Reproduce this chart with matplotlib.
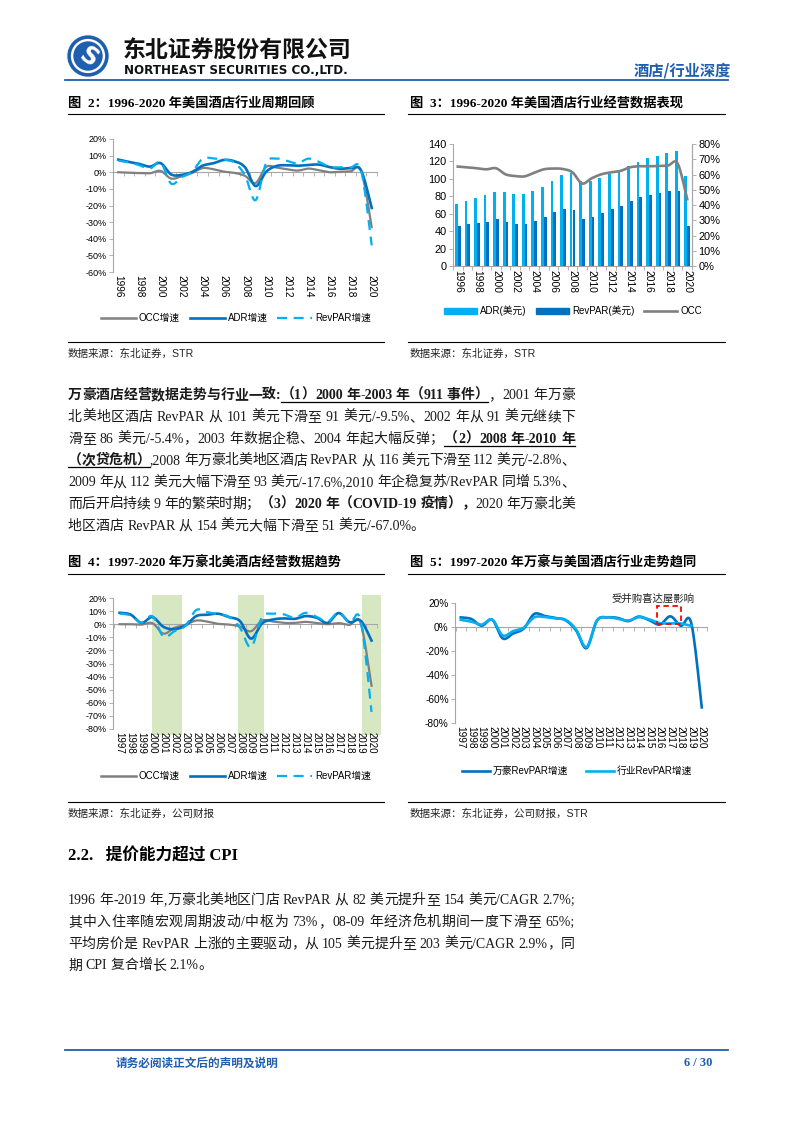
import matplotlib
matplotlib.use('Agg')
import matplotlib.pyplot as plt
import numpy as np
from matplotlib.lines import Line2D
from matplotlib.patches import Patch, Rectangle, Circle
from matplotlib.font_manager import FontProperties
from matplotlib.ticker import FuncFormatter

# ---------------- data ----------------
years_us = list(range(1996, 2021))
us_occ_growth = [0.0, -0.3, -0.5, -0.6, 0.8, -3.8, -2.4, -0.4, 2.5, 1.8, 0.4, -0.4, -2.2, -6.5, 3.2, 2.8, 1.8, 1.0, 2.2, 1.2, 0.0, 0.3, 0.5, 0.8, -33.0]
us_adr_growth = [7.6, 6.2, 5.0, 3.4, 5.5, -1.3, -1.6, 0.2, 4.0, 5.4, 7.4, 6.6, 3.0, -8.3, 0.3, 3.8, 4.2, 3.9, 4.4, 4.6, 3.1, 2.1, 2.4, 1.0, -21.5]
us_revpar_growth = [7.0, 6.0, 4.2, 2.2, 6.0, -6.8, -3.0, 0.4, 8.2, 8.3, 7.6, 5.8, -1.9, -16.8, 5.5, 8.2, 6.8, 5.4, 8.2, 6.3, 3.2, 3.0, 2.9, 0.9, -44.0]

us_adr = [70.8, 74.6, 78.5, 81.2, 85.0, 85.0, 83.1, 83.1, 86.2, 90.9, 97.4, 104.4, 106.5, 97.8, 98.0, 101.3, 106.0, 110.2, 114.8, 119.9, 123.7, 126.8, 129.5, 131.5, 103.2]
us_revpar = [45.6, 48.3, 49.9, 51.0, 53.8, 50.7, 48.7, 48.7, 51.4, 56.8, 61.5, 65.7, 64.2, 53.4, 56.1, 60.7, 65.4, 68.8, 74.2, 78.9, 81.2, 83.9, 85.8, 86.6, 45.6]
us_occ = [65.2, 64.7, 64.1, 63.4, 64.1, 60.1, 59.0, 58.8, 61.2, 63.4, 63.9, 63.6, 61.4, 54.1, 57.5, 60.1, 61.4, 62.3, 64.7, 65.4, 65.4, 65.6, 65.9, 67.2, 43.8]

years_mar = list(range(1997, 2021))
mar_occ_growth = [0.0, 0.0, -0.3, 0.8, -7.2, -2.8, -0.5, 2.8, 2.0, 0.3, -0.3, -1.8, -5.4, 2.8, 2.0, 1.0, 1.0, 1.8, 0.8, 0.0, 0.8, -0.5, 1.0, -47.0]
mar_adr_growth = [8.7, 7.4, 1.0, 5.4, -2.0, -3.8, -1.0, 6.2, 7.2, 8.0, 5.4, 2.3, -11.0, 0.5, 3.6, 4.4, 4.1, 6.2, 4.9, 1.0, 8.5, 1.5, 2.8, -12.5]
mar_revpar_growth = [8.0, 6.7, 1.1, 6.1, -9.5, -5.4, -1.4, 10.8, 9.2, 7.5, 5.6, -2.8, -17.6, 5.3, 8.0, 7.5, 4.9, 8.7, 5.6, 2.0, 8.9, 1.1, 3.2, -67.0]
ind_revpar_growth = [6.0, 4.5, 2.0, 6.1, -7.0, -3.4, -0.6, 8.0, 8.3, 7.2, 6.0, -2.0, -16.7, 5.5, 8.1, 6.8, 5.4, 8.2, 6.3, 3.2, 3.0, 2.9, 0.9, None]

shade_spans = [(1999.95, 2002.7), (2007.8, 2010.2), (2019.15, 2020.85)]

# ---------------- setup ----------------
W, H = 793, 1122
fig = plt.figure(figsize=(W / 100, H / 100), dpi=100)
plt.rcParams['font.family'] = ['Liberation Sans', 'Noto Sans CJK SC']
SANS = ['Liberation Sans', 'Noto Sans CJK SC']
SERIF = ['Liberation Serif', 'Noto Sans CJK SC']
CJK = ['Noto Sans CJK SC', 'DejaVu Sans']

C_DARK = '#0070C0'
C_LIGHT = '#00B0F0'
C_GRAY = '#808080'
AX_GRAY = '#A6A6A6'
TXT = '#1a1a1a'
BLUE_HDR = '#1F5FAF'


def fx(x):
    return x / W


def fy(y):
    return 1 - y / H


def axes_px(l, t, r, b):
    return fig.add_axes([fx(l), fy(b), (r - l) / W, (b - t) / H])


def hline(x0, x1, y, color='black', lw=0.8):
    fig.add_artist(Line2D([fx(x0), fx(x1)], [fy(y), fy(y)], transform=fig.transFigure, color=color, lw=lw))


def smooth(xv, yv, n=20):
    x = np.asarray(xv, float)
    y = np.asarray(yv, float)
    P = np.column_stack([x, y])
    P = np.vstack([P[0], P, P[-1]])
    out = []
    t = np.linspace(0, 1, n, endpoint=False)[:, None]
    for i in range(1, len(P) - 2):
        p0, p1, p2, p3 = P[i - 1], P[i], P[i + 1], P[i + 2]
        c1 = p1 + (p2 - p0) / 6
        c2 = p2 - (p3 - p1) / 6
        seg = (1 - t) ** 3 * p1 + 3 * (1 - t) ** 2 * t * c1 + 3 * (1 - t) * t ** 2 * c2 + t ** 3 * p2
        out.append(seg)
    out.append(P[-2][None, :])
    out = np.vstack(out)
    return out[:, 0], out[:, 1]


renderer = fig.canvas.get_renderer()
_cache = {}


def measure(text, size, bold, fam):
    key = (text, size, bold, tuple(fam))
    if key not in _cache:
        t = fig.text(0, 0, text, fontsize=size, fontweight='bold' if bold else 'normal', family=fam)
        _cache[key] = t.get_window_extent(renderer).width
        t.remove()
    return _cache[key]


def is_wide(ch):
    return len(ch) == 1 and ord(ch) >= 0x2E80


def tokenize(text):
    toks, buf = [], ''
    for ch in text:
        if ch == ' ' or is_wide(ch):
            if buf:
                toks.append(buf)
                buf = ''
            toks.append(ch)
        else:
            buf += ch
    if buf:
        toks.append(buf)
    return toks


def tok_width(tok, size, bold, fam):
    em = size / 72 * 100
    if is_wide(tok):
        return em
    if tok == ' ':
        return measure('H H', size, bold, fam) - measure('HH', size, bold, fam)
    return measure('H' + tok + 'H', size, bold, fam) - measure('HH', size, bold, fam)


def text_line(x, y, parts, size, target=None, fam=SERIF, color=TXT):
    items = []
    for text, bold, ul in parts:
        for tok in tokenize(text):
            items.append((tok, bold, ul, tok_width(tok, size, bold, fam)))
    natural = sum(it[3] for it in items)
    extra = 0.0
    if target is not None and len(items) > 1:
        extra = (target - natural) / (len(items) - 1)
    ul_start = None
    ul_end = None
    for tok, bold, ul, w in items:
        if tok != ' ':
            fig.text(fx(x), fy(y), tok, fontsize=size, fontweight='bold' if bold else 'normal',
                     family=fam, va='baseline', ha='left', color=color)
        if ul:
            if ul_start is None:
                ul_start = x
            ul_end = x + w
        elif ul_start is not None:
            hline(ul_start, ul_end, y + 3, color='black', lw=0.9)
            ul_start = None
        x += w + extra
    if ul_start is not None:
        hline(ul_start, ul_end, y + 3, color='black', lw=0.9)


def pct(v, pos=None):
    return f'{v:.0f}%'


def style_axes(ax, xls=7.0):
    for s in ['top', 'right', 'bottom']:
        ax.spines[s].set_visible(False)
    ax.spines['left'].set_color(AX_GRAY)
    ax.spines['left'].set_linewidth(0.8)
    ax.tick_params(axis='y', length=3, width=0.6, color=AX_GRAY, labelsize=6.5, pad=1.5)
    ax.tick_params(axis='x', length=0, labelsize=xls, pad=2)
    ax.yaxis.set_major_formatter(FuncFormatter(pct))
    ax.patch.set_alpha(0)


def zero_axis(ax, n):
    y0, y1 = ax.get_ylim()
    loc = (0 - y0) / (y1 - y0)
    sec = ax.secondary_xaxis(loc)
    sec.set_alignment('bottom')
    sec.set_xticks(np.arange(-0.5, n, 1.0))
    sec.tick_params(axis='x', length=3, width=0.6, color=AX_GRAY, labelbottom=False, labeltop=False)
    for s in sec.spines.values():
        s.set_visible(False)
    sec.spines['bottom'].set_visible(True)
    sec.spines['bottom'].set_color(AX_GRAY)
    sec.spines['bottom'].set_linewidth(0.8)
    return sec


LEG_PROP = FontProperties(family=SANS, size=7)


def legend(handles, labels, cx, cy, **kw):
    opts = dict(loc='center', bbox_to_anchor=(fx(cx), fy(cy)), ncol=len(handles), frameon=False,
                prop=LEG_PROP, handlelength=3.6, columnspacing=1.0, handletextpad=0.3,
                borderpad=0, borderaxespad=0)
    opts.update(kw)
    fig.legend(handles, labels, **opts)


# ---------------- header ----------------
lax = fig.add_axes([fx(67), fy(77), 42 / W, 42 / H])
lax.set_xlim(-1.05, 1.05)
lax.set_ylim(-1.05, 1.05)
lax.set_aspect('equal')
lax.axis('off')
lax.add_patch(Circle((0, 0), 1.0, color=BLUE_HDR))
lax.add_patch(Circle((0, 0), 0.82, color='white'))
lax.add_patch(Circle((0, 0), 0.70, color=BLUE_HDR))
lax.text(0, -0.05, 'S', color='white', fontsize=17, fontweight='bold', ha='center', va='center',
         family='DejaVu Sans', rotation=-35)

fig.text(fx(123), fy(50), '东北证券股份有限公司', fontsize=16.5, fontweight='bold', family=CJK,
         va='center', ha='left', color='#111111')
fig.text(fx(124), fy(70), 'NORTHEAST SECURITIES CO.,LTD.', fontsize=8.6, fontweight='bold',
         family='DejaVu Sans', va='center', ha='left', color='#111111')
fig.text(fx(731), fy(70), '酒店/行业深度', fontsize=11, fontweight='bold', family=CJK,
         va='center', ha='right', color=BLUE_HDR)
hline(65, 728, 80, color=BLUE_HDR, lw=1.3)

# ---------------- chart titles ----------------
fig.text(fx(68), fy(108), '图  2：1996-2020 年美国酒店行业周期回顾', fontsize=9.5, fontweight='bold',
         family=SERIF, va='baseline', color='black')
fig.text(fx(410), fy(108), '图  3：1996-2020 年美国酒店行业经营数据表现', fontsize=9.5, fontweight='bold',
         family=SERIF, va='baseline', color='black')
hline(68, 384, 114)
hline(408, 725, 114)

# ---------------- chart 2 ----------------
n_us = len(years_us)
idx_us = np.arange(n_us)
ax2 = axes_px(113, 139, 377, 272)
ax2.set_xlim(-0.5, n_us - 0.5)
ax2.set_ylim(-60, 20)
ax2.set_yticks(np.arange(-60, 21, 10))
style_axes(ax2, 7.2)
ax2.set_xticks(idx_us[::2])
ax2.set_xticklabels([str(y) for y in years_us[::2]], rotation=-90)
zero_axis(ax2, n_us)
xs, ys = smooth(idx_us, us_occ_growth)
ax2.plot(xs, ys, color=C_GRAY, lw=1.6)
xs, ys = smooth(idx_us, us_adr_growth)
ax2.plot(xs, ys, color=C_DARK, lw=1.9)
xs, ys = smooth(idx_us, us_revpar_growth)
ax2.plot(xs, ys, color=C_LIGHT, lw=1.6, dashes=(4.5, 3))

h2 = [Line2D([], [], color=C_GRAY, lw=1.8), Line2D([], [], color=C_DARK, lw=1.9),
      Line2D([], [], color=C_LIGHT, lw=1.6, dashes=(4.5, 3))]
legend(h2, ['OCC增速', 'ADR增速', 'RevPAR增速'], 236, 318)

# ---------------- chart 3 ----------------
ax3 = axes_px(453, 144, 692, 266)
ax3.set_xlim(-0.5, n_us - 0.5)
ax3.set_ylim(0, 140)
ax3.set_yticks(np.arange(0, 141, 20))
bw = 0.29
ax3.bar(idx_us - bw / 2, us_adr, width=bw, color=C_LIGHT, zorder=2)
ax3.bar(idx_us + bw / 2, us_revpar, width=bw, color=C_DARK, zorder=2)
ax3.spines['top'].set_visible(False)
for s in ['left', 'bottom', 'right']:
    ax3.spines[s].set_color(AX_GRAY)
    ax3.spines[s].set_linewidth(0.8)
ax3.set_xticks(idx_us[::2])
ax3.set_xticklabels([str(y) for y in years_us[::2]], rotation=-90)
ax3.set_xticks(np.arange(-0.5, n_us, 1.0), minor=True)
ax3.tick_params(axis='x', which='major', length=0, labelsize=7.4, pad=3)
ax3.tick_params(axis='x', which='minor', length=3, width=0.6, color=AX_GRAY)
ax3.tick_params(axis='y', length=3, width=0.6, color=AX_GRAY, labelsize=7.9, pad=1.5)
ax3r = ax3.twinx()
ax3r.set_ylim(0, 80)
ax3r.set_yticks(np.arange(0, 81, 10))
ax3r.yaxis.set_major_formatter(FuncFormatter(pct))
ax3r.tick_params(axis='y', length=3, width=0.6, color=AX_GRAY, labelsize=7.9, pad=1.5)
for s in ['top', 'left', 'bottom']:
    ax3r.spines[s].set_visible(False)
ax3r.spines['right'].set_color(AX_GRAY)
xs, ys = smooth(idx_us, us_occ)
ax3r.plot(xs, ys, color=C_GRAY, lw=1.9)

h3 = [Patch(color=C_LIGHT), Patch(color=C_DARK), Line2D([], [], color=C_GRAY, lw=1.9)]
legend(h3, ['ADR(美元)', 'RevPAR(美元)', 'OCC'], 573, 311, handleheight=0.55, handlelength=3.4,
       columnspacing=1.0)

# ---------------- sources (top) ----------------
hline(68, 384, 342)
hline(408, 725, 342)
fig.text(fx(68), fy(354), '数据来源：东北证券，STR', fontsize=7.6, family=SANS, va='center', color='#222222')
fig.text(fx(410), fy(354), '数据来源：东北证券，STR', fontsize=7.6, family=SANS, va='center', color='#222222')

# ---------------- paragraph 1 ----------------
PS = 10.0
LEFT, RIGHT = 68, 575
dy = 21.8
para1 = [
    [('万豪酒店经营数据走势与行业一致:', True, False), ('（1）2000 年-2003 年（911 事件）', True, True),
     ('，2001 年万豪', False, False)],
    [('北美地区酒店 RevPAR 从 101 美元下滑至 91 美元/-9.5%、2002 年从 91 美元继续下', False, False)],
    [('滑至 86 美元/-5.4%，2003 年数据企稳、2004 年起大幅反弹；', False, False),
     ('（2）2008 年-2010 年', True, True)],
    [('（次贷危机）', True, True),
     (',2008 年万豪北美地区酒店 RevPAR 从 116 美元下滑至 112 美元/-2.8%、', False, False)],
    [('2009 年从 112 美元大幅下滑至 93 美元/-17.6%,2010 年企稳复苏/RevPAR 同增 5.3%、', False, False)],
    [('而后开启持续 9 年的繁荣时期；', False, False), ('（3）2020 年（COVID-19 疫情），', True, False),
     ('2020 年万豪北美', False, False)],
    [('地区酒店 RevPAR 从 154 美元大幅下滑至 51 美元/-67.0%。', False, False)],
]
for i, line in enumerate(para1):
    text_line(LEFT, 399 + i * dy, line, PS, target=(RIGHT - LEFT) if i < len(para1) - 1 else None)

# ---------------- chart titles (bottom) ----------------
fig.text(fx(68), fy(567), '图  4：1997-2020 年万豪北美酒店经营数据趋势', fontsize=9.5, fontweight='bold',
         family=SERIF, va='baseline', color='black')
fig.text(fx(410), fy(567), '图  5：1997-2020 年万豪与美国酒店行业走势趋同', fontsize=9.5, fontweight='bold',
         family=SERIF, va='baseline', color='black')
hline(68, 384, 574)
hline(408, 725, 574)

# ---------------- chart 4 ----------------
n_m = len(years_mar)
idx_m = np.arange(n_m)
ax4 = axes_px(113, 598, 377, 729)
ax4.set_xlim(-0.6, n_m - 0.5)
ax4.set_ylim(-80, 20)
ax4.set_yticks(np.arange(-80, 21, 10))
style_axes(ax4, 7.0)
ax4.set_xticks(idx_m)
ax4.set_xticklabels([str(y) for y in years_mar], rotation=-90)
for a, b in shade_spans:
    ax4.add_patch(Rectangle((a - years_mar[0], -84.5), b - a, 107, color='#D7E7C2', lw=0,
                            clip_on=False, zorder=0))
zero_axis(ax4, n_m)
xs, ys = smooth(idx_m, mar_occ_growth)
ax4.plot(xs, ys, color=C_GRAY, lw=1.6, zorder=3)
xs, ys = smooth(idx_m, mar_adr_growth)
ax4.plot(xs, ys, color=C_DARK, lw=1.9, zorder=3)
xs, ys = smooth(idx_m, mar_revpar_growth)
ax4.plot(xs, ys, color=C_LIGHT, lw=1.6, dashes=(4.5, 3), zorder=3)
legend(h2, ['OCC增速', 'ADR增速', 'RevPAR增速'], 236, 776)

# ---------------- chart 5 ----------------
ax5 = axes_px(455, 603, 707, 723)
ax5.set_xlim(-0.55, n_m - 0.5)
ax5.set_ylim(-80, 20)
ax5.set_yticks(np.arange(-80, 21, 20))
style_axes(ax5, 7.3)
ax5.tick_params(axis='y', labelsize=7.3)
ax5.set_xticks(idx_m)
ax5.set_xticklabels([str(y) for y in years_mar], rotation=-90)
zero_axis(ax5, n_m)
xs, ys = smooth(idx_m, mar_revpar_growth)
ax5.plot(xs, ys, color=C_DARK, lw=1.9, zorder=3)
ind_valid = [(i, v) for i, v in zip(idx_m, ind_revpar_growth) if v is not None]
xs, ys = smooth([p[0] for p in ind_valid], [p[1] for p in ind_valid])
ax5.plot(xs, ys, color=C_LIGHT, lw=1.9, zorder=3)
ax5.add_patch(Rectangle((18.7, 2.5), 2.3, 15, fill=False, ec='#FF0000', lw=1.3, ls=(0, (3, 2)),
                        clip_on=False, zorder=4))
ax5.text(18.3, 24, '受并购喜达屋影响', fontsize=7.5, family=CJK, ha='center', va='center', color='#222222')
h5 = [Line2D([], [], color=C_DARK, lw=1.9), Line2D([], [], color=C_LIGHT, lw=1.9)]
legend(h5, ['万豪RevPAR增速', '行业RevPAR增速'], 577, 771, handlelength=2.9, columnspacing=1.8)

# ---------------- sources (bottom) ----------------
hline(68, 384, 802)
hline(408, 725, 802)
fig.text(fx(68), fy(814), '数据来源：东北证券，公司财报', fontsize=7.6, family=SANS, va='center', color='#222222')
fig.text(fx(410), fy(814), '数据来源：东北证券，公司财报，STR', fontsize=7.6, family=SANS, va='center',
         color='#222222')

# ---------------- section 2.2 ----------------
fig.text(fx(68), fy(861), '2.2.   提价能力超过 CPI', fontsize=12, fontweight='bold', family=SERIF,
         va='baseline', color='black')
para2 = [
    '1996 年-2019 年,万豪北美地区门店 RevPAR 从 82 美元提升至 154 美元/CAGR 2.7%;',
    '其中入住率随宏观周期波动/中枢为 73%，08-09 年经济危机期间一度下滑至 65%;',
    '平均房价是 RevPAR 上涨的主要驱动，从 105 美元提升至 203 美元/CAGR 2.9%，同',
    '期 CPI 复合增长 2.1%。',
]
for i, line in enumerate(para2):
    text_line(LEFT, 904 + i * 21.8, [(line, False, False)], PS,
              target=(RIGHT - LEFT) if i < len(para2) - 1 else None)

# ---------------- footer ----------------
hline(65, 728, 1050, color=BLUE_HDR, lw=1.3)
fig.text(fx(116), fy(1063), '请务必阅读正文后的声明及说明', fontsize=8.4, fontweight='bold', family=CJK,
         va='center', color=BLUE_HDR)
fig.text(fx(712), fy(1063), '6 / 30', fontsize=9, fontweight='bold', family=SERIF, va='center',
         ha='right', color=BLUE_HDR)

fig.savefig('out.png', dpi=100)
